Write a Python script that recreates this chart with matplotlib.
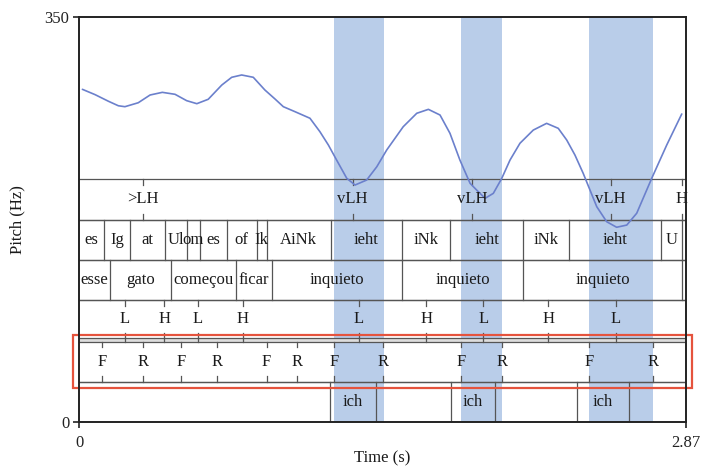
#!/usr/bin/env python3
"""Pitch contour with Praat-style annotation tiers."""
import matplotlib
matplotlib.use("Agg")
import matplotlib.pyplot as plt
from matplotlib.patches import Rectangle
from matplotlib.transforms import blended_transform_factory

plt.rcParams["font.family"] = ["Liberation Serif", "DejaVu Serif"]

T_END = 2.87

# pitch contour (s, Hz)
pitch_t = [0.016, 0.076, 0.139, 0.186, 0.217, 0.280, 0.336, 0.394, 0.454, 0.509,
           0.557, 0.611, 0.675, 0.722, 0.769, 0.824, 0.879, 0.927, 0.966, 1.021,
           1.092, 1.139, 1.179, 1.218, 1.266, 1.305, 1.360, 1.408, 1.455, 1.533,
           1.597, 1.652, 1.707, 1.754, 1.801, 1.849, 1.880, 1.920, 1.959, 1.999,
           2.038, 2.085, 2.148, 2.211, 2.266, 2.306, 2.345, 2.384, 2.448, 2.495,
           2.542, 2.590, 2.637, 2.708, 2.779, 2.850]
pitch_hz = [287.5, 282.9, 277.2, 273.3, 272.5, 275.9, 282.6, 284.9, 283.2, 277.7,
            275.1, 278.9, 291.2, 297.9, 299.9, 297.9, 286.9, 279.1, 272.5, 268.2,
            262.5, 250.9, 239.4, 226.4, 210.6, 204.8, 209.1, 220.6, 235.1, 255.2,
            266.8, 270.2, 265.3, 249.5, 226.4, 206.3, 200.5, 193.3, 197.6, 210.6,
            226.4, 240.9, 252.3, 258.1, 253.8, 243.7, 230.7, 214.9, 186.1, 173.1,
            168.3, 170.2, 180.4, 210.6, 239.4, 266.2]

# highlighted stretches
band_start = [1.206, 1.805, 2.410]
band_end = [1.442, 2.001, 2.715]

# tier 1: tones (points)
tone_t = [0.301, 1.294, 1.857, 2.514, 2.850]
tone_lab = [">LH", "vLH", "vLH", "vLH", "H"]

# tier 2: segments (intervals)
seg_bounds = [0, 0.118, 0.241, 0.407, 0.509, 0.572, 0.698, 0.840, 0.887, 1.191,
              1.526, 1.754, 2.101, 2.318, 2.750, 2.850, T_END]
seg_lab = ["es", "Ig", "at", "Ul", "om", "es", "of", "Ik", "AiNk", "ieht",
           "iNk", "ieht", "iNk", "ieht", "U", ""]

# tier 3: words (intervals)
word_bounds = [0, 0.147, 0.434, 0.741, 0.911, 1.526, 2.101, 2.850, T_END]
word_lab = ["esse", "gato", "começou", "ficar", "inquieto", "inquieto", "inquieto", ""]

# tier 4: L / H (points)
lh_t = [0.217, 0.403, 0.561, 0.774, 1.324, 1.641, 1.912, 2.219, 2.539]
lh_lab = ["L", "H", "L", "H", "L", "H", "L", "H", "L"]

# tier 5: F / R (points)
fr_t = [0.107, 0.301, 0.482, 0.654, 0.887, 1.032, 1.206, 1.439, 1.806, 2.001, 2.410, 2.715]
fr_lab = ["F", "R", "F", "R", "F", "R", "F", "R", "F", "R", "F", "R"]

# tier 6: ich (intervals)
ich_bounds = [0, 1.187, 1.403, 1.759, 1.967, 2.353, 2.602, T_END]
ich_lab = ["", "ich", "", "ich", "", "ich", ""]

LINE = "#555555"
TXT = "#1a1a1a"
FS = 12

fig = plt.figure(figsize=(7.03, 4.66), dpi=100)
ax = fig.add_axes([0.1124, 0.0944, 0.8634, 0.8691])
ax.set_xlim(0, T_END)
ax.set_ylim(0, 350)
tr = blended_transform_factory(ax.transData, ax.transAxes)


def hline(y, lw=0.9):
    ax.plot([0, T_END], [y, y], transform=tr, color=LINE, lw=lw, zorder=3)


def interval_tier(bounds, labels, y0, y1):
    hline(y0); hline(y1)
    for b in bounds[1:-1]:
        ax.plot([b, b], [y0, y1], transform=tr, color=LINE, lw=0.9, zorder=3)
    for a, b, s in zip(bounds[:-1], bounds[1:], labels):
        if s:
            ax.text((a + b) / 2, (y0 + y1) / 2, s, transform=tr, ha="center",
                    va="center", fontsize=FS, color=TXT, zorder=5)


def point_tier(times, labels, y0, y1, tick=0.014):
    hline(y0); hline(y1)
    for t, s in zip(times, labels):
        ax.plot([t, t], [y1, y1 - tick], transform=tr, color=LINE, lw=0.9, zorder=3)
        ax.plot([t, t], [y0, y0 + tick], transform=tr, color=LINE, lw=0.9, zorder=3)
        ax.text(t, (y0 + y1) / 2, s, transform=tr, ha="center", va="center",
                fontsize=FS, color=TXT, zorder=5)


# blue bands, full height
for a, b in zip(band_start, band_end):
    ax.axvspan(a, b, color="#b9cde9", lw=0, zorder=1)

# tiers (axes fractions)
point_tier(tone_t, tone_lab, 0.500, 0.600)
interval_tier(seg_bounds, seg_lab, 0.400, 0.500)
interval_tier(word_bounds, word_lab, 0.301, 0.400)
point_tier(lh_t, lh_lab, 0.207, 0.301)
# thin grey strip between the tone tiers
ax.add_patch(Rectangle((0, 0.198), T_END, 0.009, transform=tr, fc="#dddddd",
                       ec="none", zorder=2))
for t in lh_t:
    ax.plot([t, t], [0.198, 0.207], transform=tr, color=LINE, lw=0.9, zorder=3)
point_tier(fr_t, fr_lab, 0.099, 0.198)
interval_tier(ich_bounds, ich_lab, 0.0, 0.099)

# pitch curve
ax.plot(pitch_t, pitch_hz, color="#6b80cc", lw=1.2, zorder=4,
        solid_joinstyle="round", solid_capstyle="round")

# red highlight box around F/R tier
ax.add_patch(Rectangle((-0.0104, 0.083), 1.0198, 0.132, transform=ax.transAxes,
                       fill=False, ec="#e5533d", lw=1.6, clip_on=False, zorder=6))

# axes
for side in ["left", "bottom", "top", "right"]:
    ax.spines[side].set_color("#222222")
    ax.spines[side].set_linewidth(1.4)
    ax.spines[side].set_zorder(7)
ax.set_yticks([0, 350])
ax.set_yticklabels(["0", "350"])
ax.set_xticks([0, T_END])
ax.set_xticklabels(["0", "2.87"])
ax.tick_params(axis="both", direction="out", length=4, width=1.2,
               labelsize=FS, colors="#222222", pad=3)
ax.tick_params(axis="x", pad=5)
ax.set_xlabel("Time (s)", fontsize=FS, color=TXT, labelpad=0)
fig.text(17 / 703, 1 - 219.5 / 466, "Pitch (Hz)", rotation=90, ha="center",
         va="center", fontsize=FS, color=TXT)

fig.savefig("out.png", dpi=100, facecolor="white")
print("saved: out.png")
